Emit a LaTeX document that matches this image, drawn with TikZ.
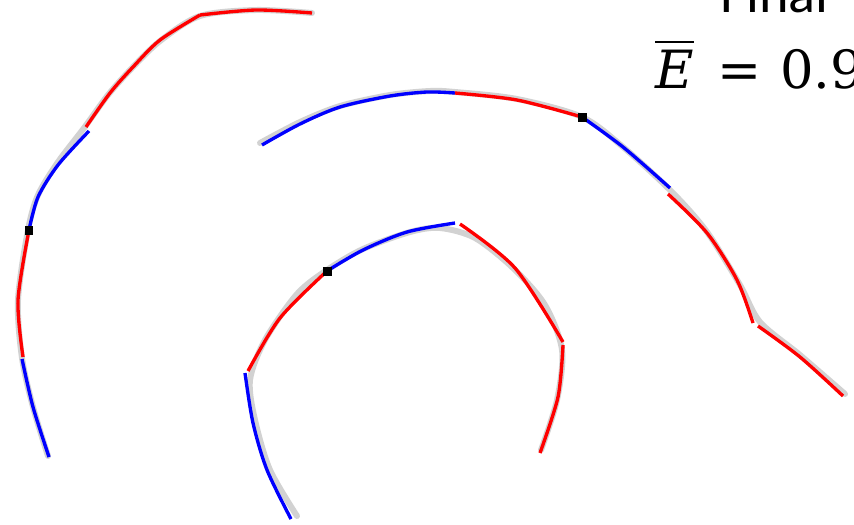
\documentclass[tikz,border=0pt]{standalone}
\usepackage{amsmath,amssymb}
\usepackage{fontspec}
\newfontfamily\labelfont{Carlito}
\newfontfamily\valuefont{DejaVu Serif}
\usetikzlibrary{positioning}

\begin{document}
\begin{tikzpicture}[x=0.02cm,y=-0.02cm,
  truth/.style={gray!35,line width=3.4pt,line cap=round},
  bseg/.style={blue,line width=1.9pt},
  rseg/.style={red,line width=1.9pt},
  knot/.style={rectangle,fill=black,inner sep=0pt,minimum size=0.18cm},
  lab/.style={inner sep=0pt}]
  \path[use as bounding box] (0,0) rectangle (854,524);
  \clip (0,0) rectangle (854,524);
  % ground-truth curves
  \draw[truth] plot[smooth] coordinates {(312,13) (256,10) (200,16) (160,41) (132,68) (108,95) (84,128) (58,162) (38,195) (28,230) (18,300) (22,358) (33,407) (48,456)};
  \draw[truth] plot[smooth] coordinates {(260,143) (300,122) (340,106) (390,95) (430,91) (455,92) (517,99) (582,117) (623,147) (672,192) (707,232) (740,285) (760,322) (800,355) (845,394)};
  \draw[truth] plot[smooth] coordinates {(297,516) (270,470) (255,420) (250,380) (265,340) (297,294) (327,270) (363,249) (410,232) (440,228) (475,238) (513,268) (545,305) (562,350) (557,400) (541,450)};
  % outer curve
  \draw[rseg] plot[smooth] coordinates {(312,13) (256,10) (200,15)};
  \draw[rseg] plot[smooth] coordinates {(200,15) (160,40) (133,67) (110,93) (86,127)};
  \draw[bseg] plot[smooth] coordinates {(89,131) (58,165) (38,197) (29,230)};
  \draw[rseg] plot[smooth] coordinates {(29,230) (18,300) (23,357)};
  \draw[bseg] plot[smooth] coordinates {(22,359) (33,407) (49,457)};
  % middle curve
  \draw[bseg] plot[smooth] coordinates {(262,145) (300,124) (340,107) (390,96) (427,92) (455,93)};
  \draw[rseg] plot[smooth] coordinates {(455,93) (517,100) (582,117)};
  \draw[bseg] plot[smooth] coordinates {(582,117) (623,147) (670,188)};
  \draw[rseg] plot[smooth] coordinates {(668,194) (707,233) (737,280) (753,323)};
  \draw[rseg] plot[smooth] coordinates {(758,326) (800,357) (843,396)};
  % inner curve
  \draw[bseg] plot[smooth] coordinates {(245,373) (253,423) (267,470) (291,519)};
  \draw[rseg] plot[smooth] coordinates {(248,371) (280,318) (327,271)};
  \draw[bseg] plot[smooth] coordinates {(327,271) (363,250) (407,232) (455,223)};
  \draw[rseg] plot[smooth] coordinates {(460,224) (515,268) (563,342)};
  \draw[rseg] plot[smooth] coordinates {(563,345) (558,397) (540,453)};
  \node[knot] (k1) at (29,230) {};
  \node[knot] (k2) at (582,117) {};
  \node[knot] (k3) at (327,271) {};
  \node[lab,anchor=base west,font=\labelfont\fontsize{32}{36}\selectfont] (title) at (720,12) {Final};
  \node[lab,anchor=base west,font=\valuefont\fontsize{30}{36}\selectfont] (err) at (655,88) {$\overline{\mbox{\itshape E}}$\hspace{0.45em}=\hspace{0.35em}0.9};
\end{tikzpicture}
\end{document}
